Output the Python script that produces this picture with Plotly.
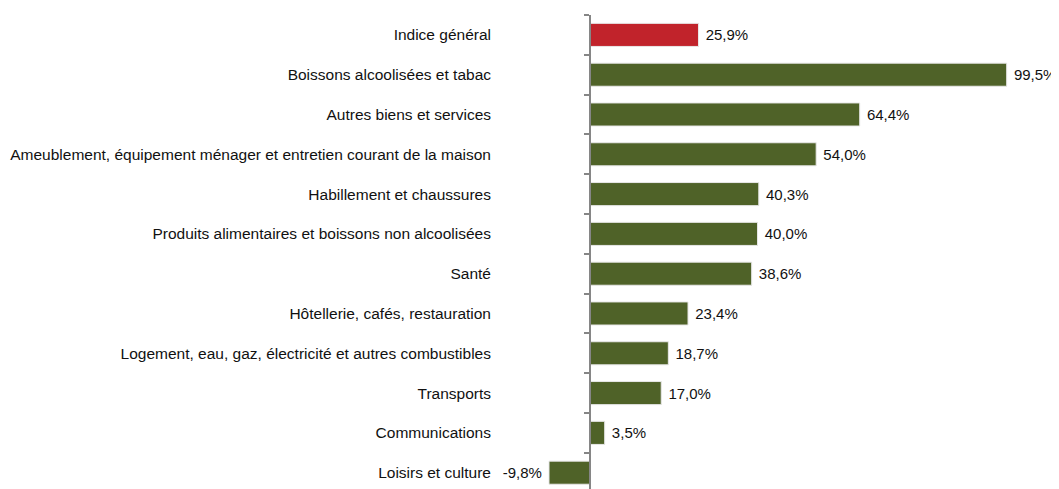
import plotly.graph_objects as go

# data
categories = [
    "Indice général",
    "Boissons alcoolisées et tabac",
    "Autres biens et services",
    "Ameublement, équipement ménager et entretien courant de la maison",
    "Habillement et chaussures",
    "Produits alimentaires et boissons non alcoolisées",
    "Santé",
    "Hôtellerie, cafés, restauration",
    "Logement, eau, gaz, électricité et autres combustibles",
    "Transports",
    "Communications",
    "Loisirs et culture",
]
values = [25.9, 99.5, 64.4, 54.0, 40.3, 40.0, 38.6, 23.4, 18.7, 17.0, 3.5, -9.8]

red = "#C1232B"
green = "#4F6228"
colors = [red] + [green] * (len(values) - 1)
# a little padding between bar end and label, like the original
labels = [(" " + f"{v:.1f}%".replace(".", ",")) if v >= 0 else (f"{v:.1f}%".replace(".", ",") + " ")
          for v in values]

FONT = "Liberation Sans, Arial, sans-serif"

fig = go.Figure()
fig.add_trace(go.Bar(
    x=values, y=categories, orientation="h",
    marker=dict(color=colors, line=dict(color="#e8e8e8", width=1)),
    text=labels, textposition="outside", cliponaxis=False,
    textfont=dict(size=15, color="#111111", family=FONT),
    hoverinfo="skip",
))
# invisible trace to carry the axis with tick marks at x=0
fig.add_trace(go.Scatter(x=[0], y=[0], yaxis="y2", mode="markers",
                         marker=dict(opacity=0), hoverinfo="skip", showlegend=False))

n = len(categories)
ytop, ybot = -0.5, 11.41
x0, x1 = -21.5, 109.6
# the page body adds an 8px margin, so the figure is sized a bit smaller
fig.update_layout(
    width=1051, height=481,
    margin=dict(l=492, r=10, t=7, b=0, autoexpand=False),
    plot_bgcolor="white", paper_bgcolor="white",
    showlegend=False, bargap=0.42,
    font=dict(family=FONT, size=15, color="#111111"),
    xaxis=dict(range=[x0, x1], visible=False, fixedrange=True, automargin=False),
    yaxis=dict(range=[ybot, ytop], showline=False, ticks="", automargin=False,
               ticklabelstandoff=8, tickfont=dict(size=15.5, family=FONT)),
    yaxis2=dict(overlaying="y", anchor="free", position=(0 - x0) / (x1 - x0),
                range=[ybot, ytop], showline=True, linecolor="#868686", linewidth=2,
                ticks="outside", ticklen=5, tickwidth=2, tickcolor="#868686",
                tickvals=[i + 0.5 for i in range(-1, n)], showticklabels=False,
                showgrid=False, zeroline=False, automargin=False),
)
fig.write_html("out.html")
